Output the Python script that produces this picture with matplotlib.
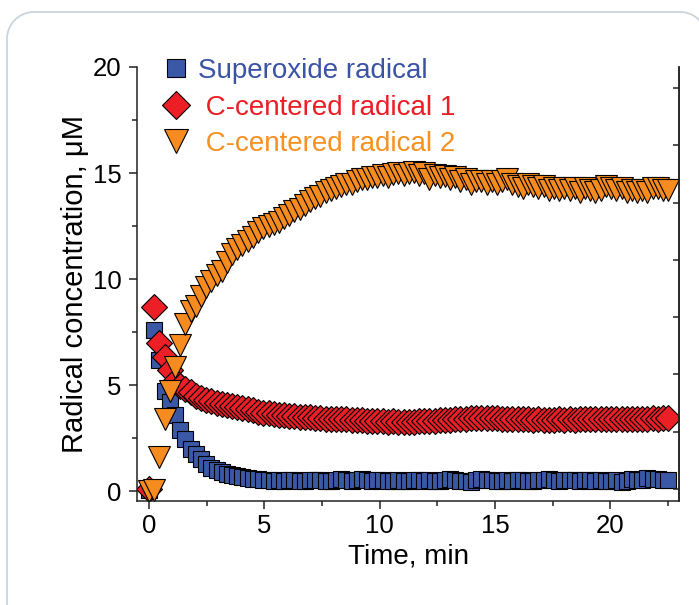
import numpy as np
import matplotlib
matplotlib.use("Agg")
import matplotlib.pyplot as plt
from matplotlib.lines import Line2D
from matplotlib.transforms import IdentityTransform
from matplotlib.ticker import MultipleLocator

plt.rcParams['font.family'] = ['Liberation Sans', 'DejaVu Sans']

# time, min
time = [0.00, 0.23, 0.45, 0.68, 0.90, 1.13, 1.35, 1.58, 1.80, 2.03,
        2.25, 2.48, 2.70, 2.93, 3.15, 3.38, 3.60, 3.83, 4.05, 4.28,
        4.50, 4.73, 4.95, 5.18, 5.40, 5.63, 5.85, 6.08, 6.30, 6.53,
        6.75, 6.98, 7.20, 7.43, 7.65, 7.88, 8.10, 8.33, 8.55, 8.78,
        9.00, 9.23, 9.45, 9.68, 9.90, 10.13, 10.35, 10.58, 10.80, 11.03,
        11.25, 11.48, 11.70, 11.93, 12.15, 12.38, 12.60, 12.83, 13.05, 13.28,
        13.50, 13.73, 13.95, 14.18, 14.40, 14.63, 14.85, 15.08, 15.30, 15.53,
        15.75, 15.98, 16.20, 16.43, 16.65, 16.88, 17.10, 17.33, 17.55, 17.78,
        18.00, 18.23, 18.45, 18.68, 18.90, 19.13, 19.35, 19.58, 19.80, 20.03,
        20.25, 20.48, 20.70, 20.93, 21.15, 21.38, 21.60, 21.83, 22.05, 22.28,
        22.50]

superoxide = [0.05, 7.6, 6.2, 4.7, 4.2, 3.6, 2.9, 2.45, 2.0, 1.75,
              1.5, 1.27, 1.1, 1.0, 0.9, 0.82, 0.75, 0.7, 0.65, 0.6,
              0.57, 0.55, 0.52, 0.5, 0.48, 0.5, 0.47, 0.5, 0.52, 0.48,
              0.45, 0.5, 0.53, 0.5, 0.47, 0.45, 0.5, 0.55, 0.52, 0.48,
              0.5, 0.55, 0.5, 0.47, 0.52, 0.5, 0.45, 0.48, 0.5, 0.47,
              0.45, 0.5, 0.52, 0.48, 0.5, 0.47, 0.45, 0.5, 0.55, 0.5,
              0.47, 0.45, 0.42, 0.5, 0.55, 0.52, 0.5, 0.45, 0.48, 0.5,
              0.47, 0.5, 0.52, 0.48, 0.45, 0.5, 0.52, 0.55, 0.5, 0.47,
              0.5, 0.53, 0.5, 0.48, 0.52, 0.5, 0.47, 0.5, 0.48, 0.45,
              0.5, 0.42, 0.48, 0.55, 0.5, 0.52, 0.6, 0.55, 0.58, 0.52,
              0.52]

c_radical_1 = [0.1, 8.7, 7.0, 6.3, 5.7, 5.2, 4.95, 4.8, 4.65, 4.5,
               4.4, 4.3, 4.25, 4.15, 4.1, 4.05, 4.0, 3.95, 3.9, 3.85,
               3.8, 3.75, 3.7, 3.68, 3.65, 3.6, 3.6, 3.55, 3.52, 3.5,
               3.48, 3.47, 3.45, 3.45, 3.42, 3.42, 3.4, 3.38, 3.38, 3.36,
               3.35, 3.33, 3.32, 3.3, 3.3, 3.28, 3.27, 3.28, 3.25, 3.26,
               3.25, 3.27, 3.28, 3.3, 3.3, 3.32, 3.33, 3.35, 3.36, 3.38,
               3.4, 3.42, 3.43, 3.44, 3.45, 3.44, 3.45, 3.44, 3.42, 3.4,
               3.42, 3.4, 3.38, 3.38, 3.37, 3.38, 3.36, 3.37, 3.36, 3.38,
               3.37, 3.38, 3.37, 3.38, 3.38, 3.39, 3.38, 3.4, 3.39, 3.4,
               3.4, 3.41, 3.4, 3.41, 3.42, 3.41, 3.42, 3.43, 3.42, 3.43,
               3.44]

c_radical_2 = [0.0, 0.05, 1.6, 3.4, 4.7, 5.85, 6.9, 7.9, 8.5, 8.75,
               9.2, 9.6, 9.9, 10.2, 10.4, 10.8, 11.2, 11.4, 11.6, 11.8,
               12.0, 12.2, 12.4, 12.5, 12.6, 12.7, 12.9, 13.0, 13.2, 13.3,
               13.5, 13.7, 13.8, 13.9, 14.1, 14.2, 14.3, 14.4, 14.5, 14.5,
               14.6, 14.7, 14.7, 14.8, 14.8, 14.9, 14.8, 14.95, 15.0, 14.9,
               15.0, 15.05, 14.9, 15.0, 14.7, 14.9, 14.8, 14.85, 14.7, 14.8,
               14.6, 14.7, 14.5, 14.6, 14.6, 14.5, 14.6, 14.5, 14.6, 14.7,
               14.5, 14.4, 14.3, 14.5, 14.4, 14.3, 14.4, 14.2, 14.3, 14.2,
               14.3, 14.2, 14.3, 14.1, 14.3, 14.2, 14.1, 14.2, 14.4, 14.3,
               14.2, 14.3, 14.1, 14.2, 14.1, 14.2, 14.1, 14.3, 14.3, 14.2,
               14.2]

labels = ['Superoxide radical', ' C-centered radical 1', ' C-centered radical 2']
face_colors = ['#3a58a6', '#ec1f26', '#f68b1f']
text_colors = ['#3a53a4', '#ec1c24', '#f7901e']

fig = plt.figure(figsize=(6.99, 6.05), dpi=100)

# rounded panel frame in pixel coords (left/top edges and corners only)
r = 27
a = np.linspace(0, np.pi / 2, 20)
fx = np.concatenate([[7, 7], 7 + r - r * np.cos(a), 680 + r * np.sin(a)])
fy = np.concatenate([[-5, 593 - r], 593 - r + r * np.sin(a), 593 - r + r * np.cos(a)])
fig.add_artist(Line2D(fx, fy, color='#c9d4dd', lw=1.3,
                      transform=IdentityTransform(), zorder=-1))

ax = fig.add_axes([137 / 699, 1 - 501 / 605, 542 / 699, 434 / 605])
ax.patch.set_alpha(0)

kw = dict(ls='none', mec='black', mew=0.8)
h1, = ax.plot(time, superoxide, marker='s', ms=11.5, mfc=face_colors[0], **kw)
h2, = ax.plot(time, c_radical_1, marker='D', ms=13, mfc=face_colors[1], **kw)
h3, = ax.plot(time, c_radical_2, marker='v', ms=15.5, mfc=face_colors[2], **kw)

ax.set_xlim(-0.52, 22.97)
ax.set_ylim(-0.47, 20)

ax.xaxis.set_major_locator(MultipleLocator(5))
ax.xaxis.set_minor_locator(MultipleLocator(2.5))
ax.yaxis.set_major_locator(MultipleLocator(5))
ax.yaxis.set_minor_locator(MultipleLocator(2.5))

ax.spines['top'].set_visible(False)
for s in ['left', 'bottom', 'right']:
    ax.spines[s].set_linewidth(1.1)
    ax.spines[s].set_color('#222222')

ax.tick_params(which='major', direction='out', length=6, width=1.1, labelsize=18.5, color='#222222')
ax.tick_params(which='minor', direction='out', length=3.5, width=1.1, color='#222222')
ax.tick_params(axis='x', which='major', pad=3.5)
ax.tick_params(axis='y', which='major', pad=5)

# unlabeled right axis with its own ticks
ax2 = ax.twinx()
ax2.set_ylim(ax.get_ylim())
ax2.set_yticks([0.1, 2.8, 5.5, 8.2, 10.9, 13.6, 16.3, 19.0])
ax2.tick_params(axis='y', direction='in', length=4, width=1.1, labelright=False, color='#222222')
ax2.spines['top'].set_visible(False)
ax2.spines['right'].set_linewidth(1.1)
ax2.spines['right'].set_color('#222222')
ax2.spines['left'].set_visible(False)
ax2.spines['bottom'].set_visible(False)

ax.set_xlabel('Time, min', fontsize=20, labelpad=4)
ax.set_ylabel('Radical concentration, \u03bcM', fontsize=21, labelpad=3)

leg = ax.legend([h1, h2, h3], labels, loc='upper left',
                bbox_to_anchor=(162 / 699, 1 - 58 / 605), bbox_transform=fig.transFigure,
                frameon=False, fontsize=20, handlelength=1.0, handletextpad=0.3,
                labelspacing=0.38, borderpad=0, borderaxespad=0, markerscale=1.1)
for t, c in zip(leg.get_texts(), text_colors):
    t.set_color(c)

fig.savefig('out.png', dpi=100)
